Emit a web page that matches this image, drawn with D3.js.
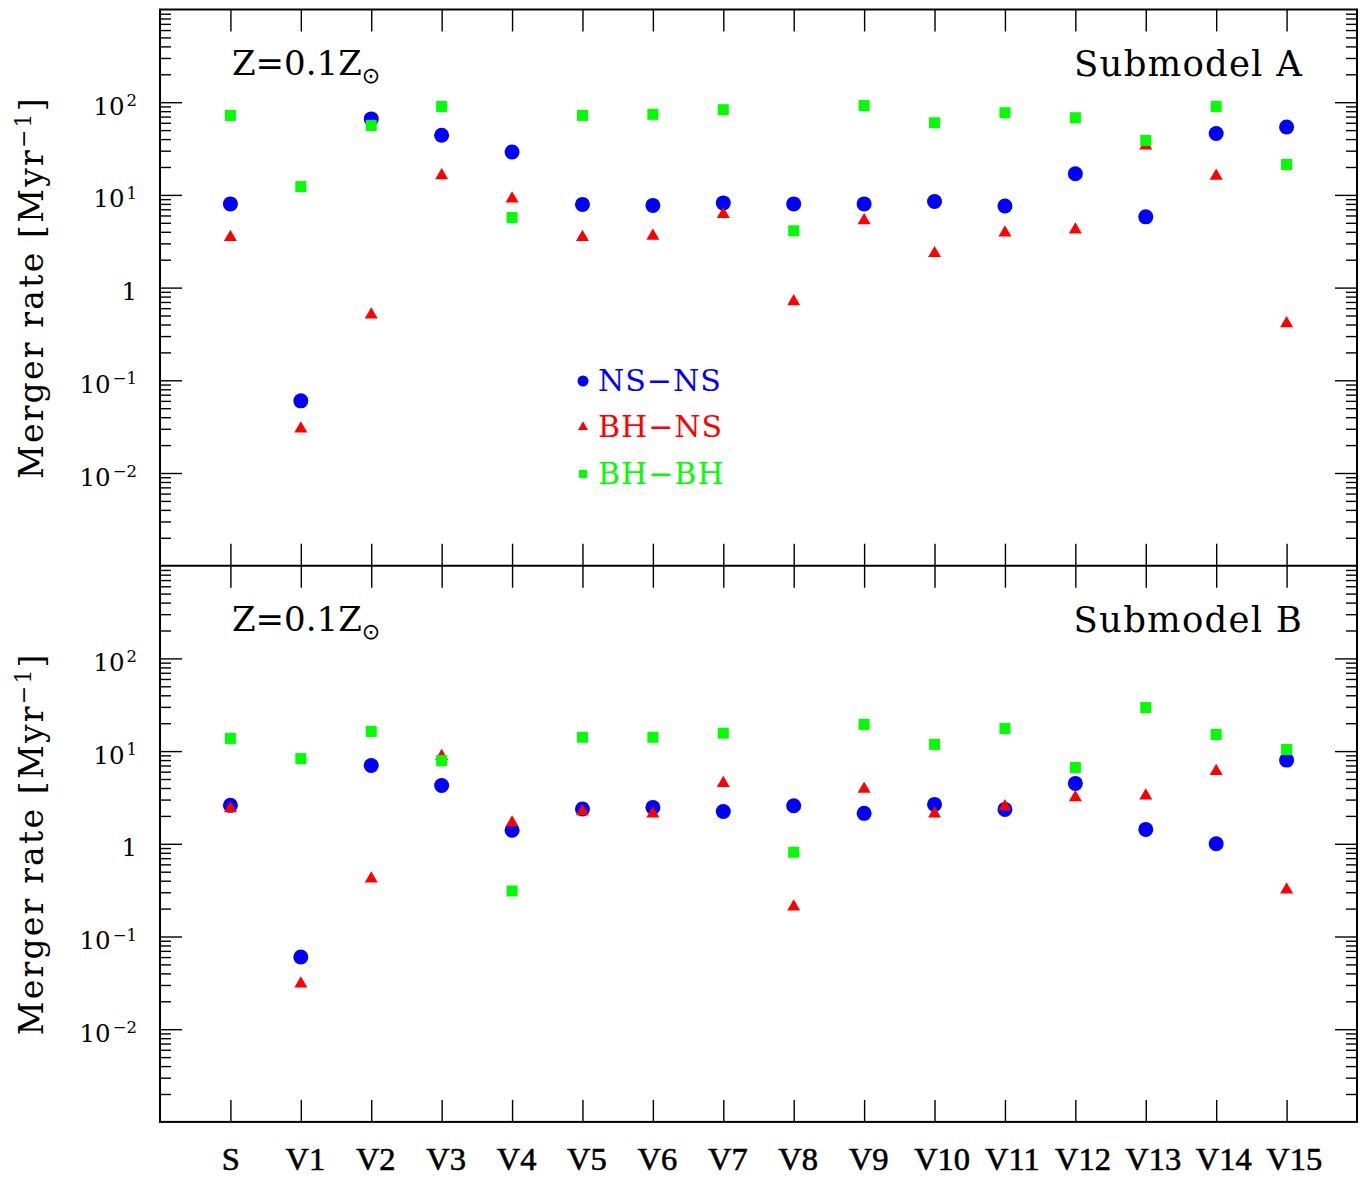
<!DOCTYPE html>
<html>
<head>
<meta charset="utf-8">
<script src="https://cdn.jsdelivr.net/npm/d3@7"></script>
<style>
  html, body { margin: 0; padding: 0; background: #fff; }
  svg { display: block; }
</style>
</head>
<body>
<svg id="chart" width="1364" height="1177"></svg>
<script>
// ---------------- data ----------------
const categories = ["S","V1","V2","V3","V4","V5","V6","V7","V8","V9","V10","V11","V12","V13","V14","V15"];

// Submodel A (top panel), merger rate [Myr^-1]
const nsnsA = [8.0, 0.06, 66, 44, 29, 7.9, 7.7, 8.2, 8.0, 8.0, 8.5, 7.6, 16.9, 5.8, 46, 54];
const bhnsA = [3.5, 0.03, 0.51, 16.2, 9.1, 3.5, 3.6, 6.2, 0.71, 5.3, 2.34, 3.9, 4.2, 34, 16, 0.41];
const bhbhA = [72, 12.3, 56, 90, 5.7, 72, 74, 83, 4.1, 92, 60, 77, 68, 38.7, 90, 21.3];

// Submodel B (bottom panel)
const nsnsB = [2.6, 0.06, 7.0, 4.26, 1.4, 2.37, 2.47, 2.23, 2.57, 2.13, 2.66, 2.35, 4.48, 1.43, 1.0, 8.0];
const bhnsB = [2.4, 0.031, 0.42, 8.8, 1.69, 2.23, 2.11, 4.5, 0.21, 3.9, 2.11, 2.53, 3.16, 3.3, 6.07, 0.32];
const bhbhB = [13.7, 8.3, 16.3, 7.9, 0.31, 14.1, 14.1, 15.6, 0.81, 19.4, 11.8, 17.5, 6.65, 29.5, 15.1, 10.4];

const seriesNames = ["NS\u2212NS", "BH\u2212NS", "BH\u2212BH"];
const panelTitles = ["Submodel A", "Submodel B"];
const metallicityLabel = "Z=0.1Z";
const yTickValues = [1e-2, 1e-1, 1, 10, 100];
const yTickBase = ["10", "10", "1", "10", "10"];
const yTickExp  = ["\u22122", "\u22121", "", "1", "2"];

// ---------------- layout ----------------
const svg = d3.select("#chart");
const left = 160, right = 1357;
const panelTop = [9.5, 565.7];
const panelH = 556.2;
const colors = { nsns: "#0000ff", bhns: "#ff0000", bhbh: "#00ff00" };

const x = d3.scaleLinear().domain([-1, 16]).range([left, right]);

const minorVals = [];
for (let e = -3; e <= 2; e++) for (let m = 2; m <= 9; m++) minorVals.push(m * Math.pow(10, e));

const panels = [
  { nsns: nsnsA, bhns: bhnsA, bhbh: bhbhA, title: panelTitles[0] },
  { nsns: nsnsB, bhns: bhnsB, bhbh: bhbhB, title: panelTitles[1] }
];

const symCircle = d3.symbol(d3.symbolCircle, 177);
const symTri = d3.symbol(d3.symbolTriangle, 73);
const symSq = d3.symbol(d3.symbolSquare, 121);

panels.forEach((p, pi) => {
  const top = panelTop[pi], bottom = top + panelH;
  const y = d3.scaleLog().domain([1e-3, 1e3]).range([bottom, top]);
  const g = svg.append("g");

  const styleAxis = sel => {
    sel.select(".domain").remove();
    sel.selectAll(".tick line").attr("stroke", "#000").attr("stroke-width", 1.4);
    sel.selectAll(".tick text").remove();
  };

  // y major/minor ticks, left and right
  g.append("g").attr("transform", `translate(${left},0)`)
    .call(d3.axisLeft(y).tickValues(yTickValues).tickSize(-22).tickFormat("")).call(styleAxis);
  g.append("g").attr("transform", `translate(${left},0)`)
    .call(d3.axisLeft(y).tickValues(minorVals).tickSize(-11).tickFormat("")).call(styleAxis);
  g.append("g").attr("transform", `translate(${right},0)`)
    .call(d3.axisRight(y).tickValues(yTickValues).tickSize(-22).tickFormat("")).call(styleAxis);
  g.append("g").attr("transform", `translate(${right},0)`)
    .call(d3.axisRight(y).tickValues(minorVals).tickSize(-11).tickFormat("")).call(styleAxis);

  // x ticks top and bottom
  const idx = d3.range(categories.length);
  g.append("g").attr("transform", `translate(0,${bottom})`)
    .call(d3.axisBottom(x).tickValues(idx).tickSize(-22).tickFormat("")).call(styleAxis);
  g.append("g").attr("transform", `translate(0,${top})`)
    .call(d3.axisTop(x).tickValues(idx).tickSize(-22).tickFormat("")).call(styleAxis);

  // y tick labels
  yTickValues.forEach((v, i) => {
    const t = g.append("text")
      .attr("x", 137).attr("y", y(v) + 12.5)
      .attr("text-anchor", "end")
      .attr("font-family", "DejaVu Serif, serif")
      .attr("font-size", 24.5)
      .attr("fill", "#000");
    t.append("tspan").text(yTickBase[i]);
    if (yTickExp[i]) {
      t.append("tspan").attr("dy", -8.5).attr("font-size", 16.5).attr("dx", 2).text(yTickExp[i]);
    }
  });

  // y axis title
  const ty = y(1);
  const title = g.append("text")
    .attr("transform", `translate(43,${ty}) rotate(-90)`)
    .attr("text-anchor", "middle")
    .attr("font-family", "DejaVu Serif, serif")
    .attr("font-size", 33)
    .attr("letter-spacing", 2.2)
    .attr("fill", "#000");
  title.append("tspan").text("Merger rate [Myr");
  title.append("tspan").attr("dy", -12).attr("font-size", 22).text("\u22121");
  title.append("tspan").attr("dy", 12).text("]");

  // Z label
  const z = g.append("text")
    .attr("x", 232).attr("y", top + 65.5)
    .attr("font-family", "DejaVu Serif, serif")
    .attr("font-size", 34)
    .attr("fill", "#000");
  z.append("tspan").text(metallicityLabel);
  z.append("tspan").attr("dy", 8).attr("font-size", 22)
    .attr("font-family", "DejaVu Sans, sans-serif").text("\u2299");

  // panel title
  g.append("text")
    .attr("x", 1303).attr("y", top + 66.5)
    .attr("text-anchor", "end")
    .attr("font-family", "DejaVu Serif, serif")
    .attr("font-size", 35.5)
    .attr("letter-spacing", 1.2)
    .attr("fill", "#000")
    .text(p.title);

  // data points: blue, red, green (green on top)
  g.append("g").selectAll("path").data(p.nsns).join("path")
    .attr("d", symCircle)
    .attr("transform", (d, i) => `translate(${x(i)},${y(d)})`)
    .attr("fill", colors.nsns);
  g.append("g").selectAll("path").data(p.bhns).join("path")
    .attr("d", symTri)
    .attr("transform", (d, i) => `translate(${x(i)},${y(d)})`)
    .attr("fill", colors.bhns);
  g.append("g").selectAll("path").data(p.bhbh).join("path")
    .attr("d", symSq)
    .attr("transform", (d, i) => `translate(${x(i)},${y(d)})`)
    .attr("fill", colors.bhbh);
});

// frames
svg.append("rect")
  .attr("x", left).attr("y", panelTop[0])
  .attr("width", right - left).attr("height", panelH * 2)
  .attr("fill", "none").attr("stroke", "#000").attr("stroke-width", 2);
svg.append("line")
  .attr("x1", left).attr("x2", right)
  .attr("y1", panelTop[1]).attr("y2", panelTop[1])
  .attr("stroke", "#000").attr("stroke-width", 2);

// x category labels (slightly right-shifted for wider labels, as in the original)
svg.append("g").selectAll("text").data(categories).join("text")
  .attr("x", (d, i) => x(i)).attr("y", 1170)
  .attr("text-anchor", "middle")
  .attr("font-family", "Liberation Serif, serif")
  .attr("font-size", 32.5)
  .attr("stroke", "#000").attr("stroke-width", 0.6)
  .attr("fill", "#000")
  .text(d => d)
  .each(function() {
    const w = this.getComputedTextLength();
    d3.select(this).attr("dx", Math.max(0, 0.19 * (w - 16)));
  });

// legend (top panel)
const legend = svg.append("g");
const legSyms = [d3.symbol(d3.symbolCircle, 95), d3.symbol(d3.symbolTriangle, 43), d3.symbol(d3.symbolSquare, 64)];
const legCols = [colors.nsns, colors.bhns, colors.bhbh];
const legSymY = [381, 427, 474];
const legTextY = [390.5, 437.3, 483.5];
seriesNames.forEach((name, i) => {
  legend.append("path").attr("d", legSyms[i]())
    .attr("transform", `translate(583,${legSymY[i]})`).attr("fill", legCols[i]);
  legend.append("text")
    .attr("x", 598).attr("y", legTextY[i])
    .attr("font-family", "DejaVu Serif, serif")
    .attr("font-size", 30)
    .attr("letter-spacing", 1)
    .attr("fill", legCols[i])
    .text(name);
});
</script>
</body>
</html>
